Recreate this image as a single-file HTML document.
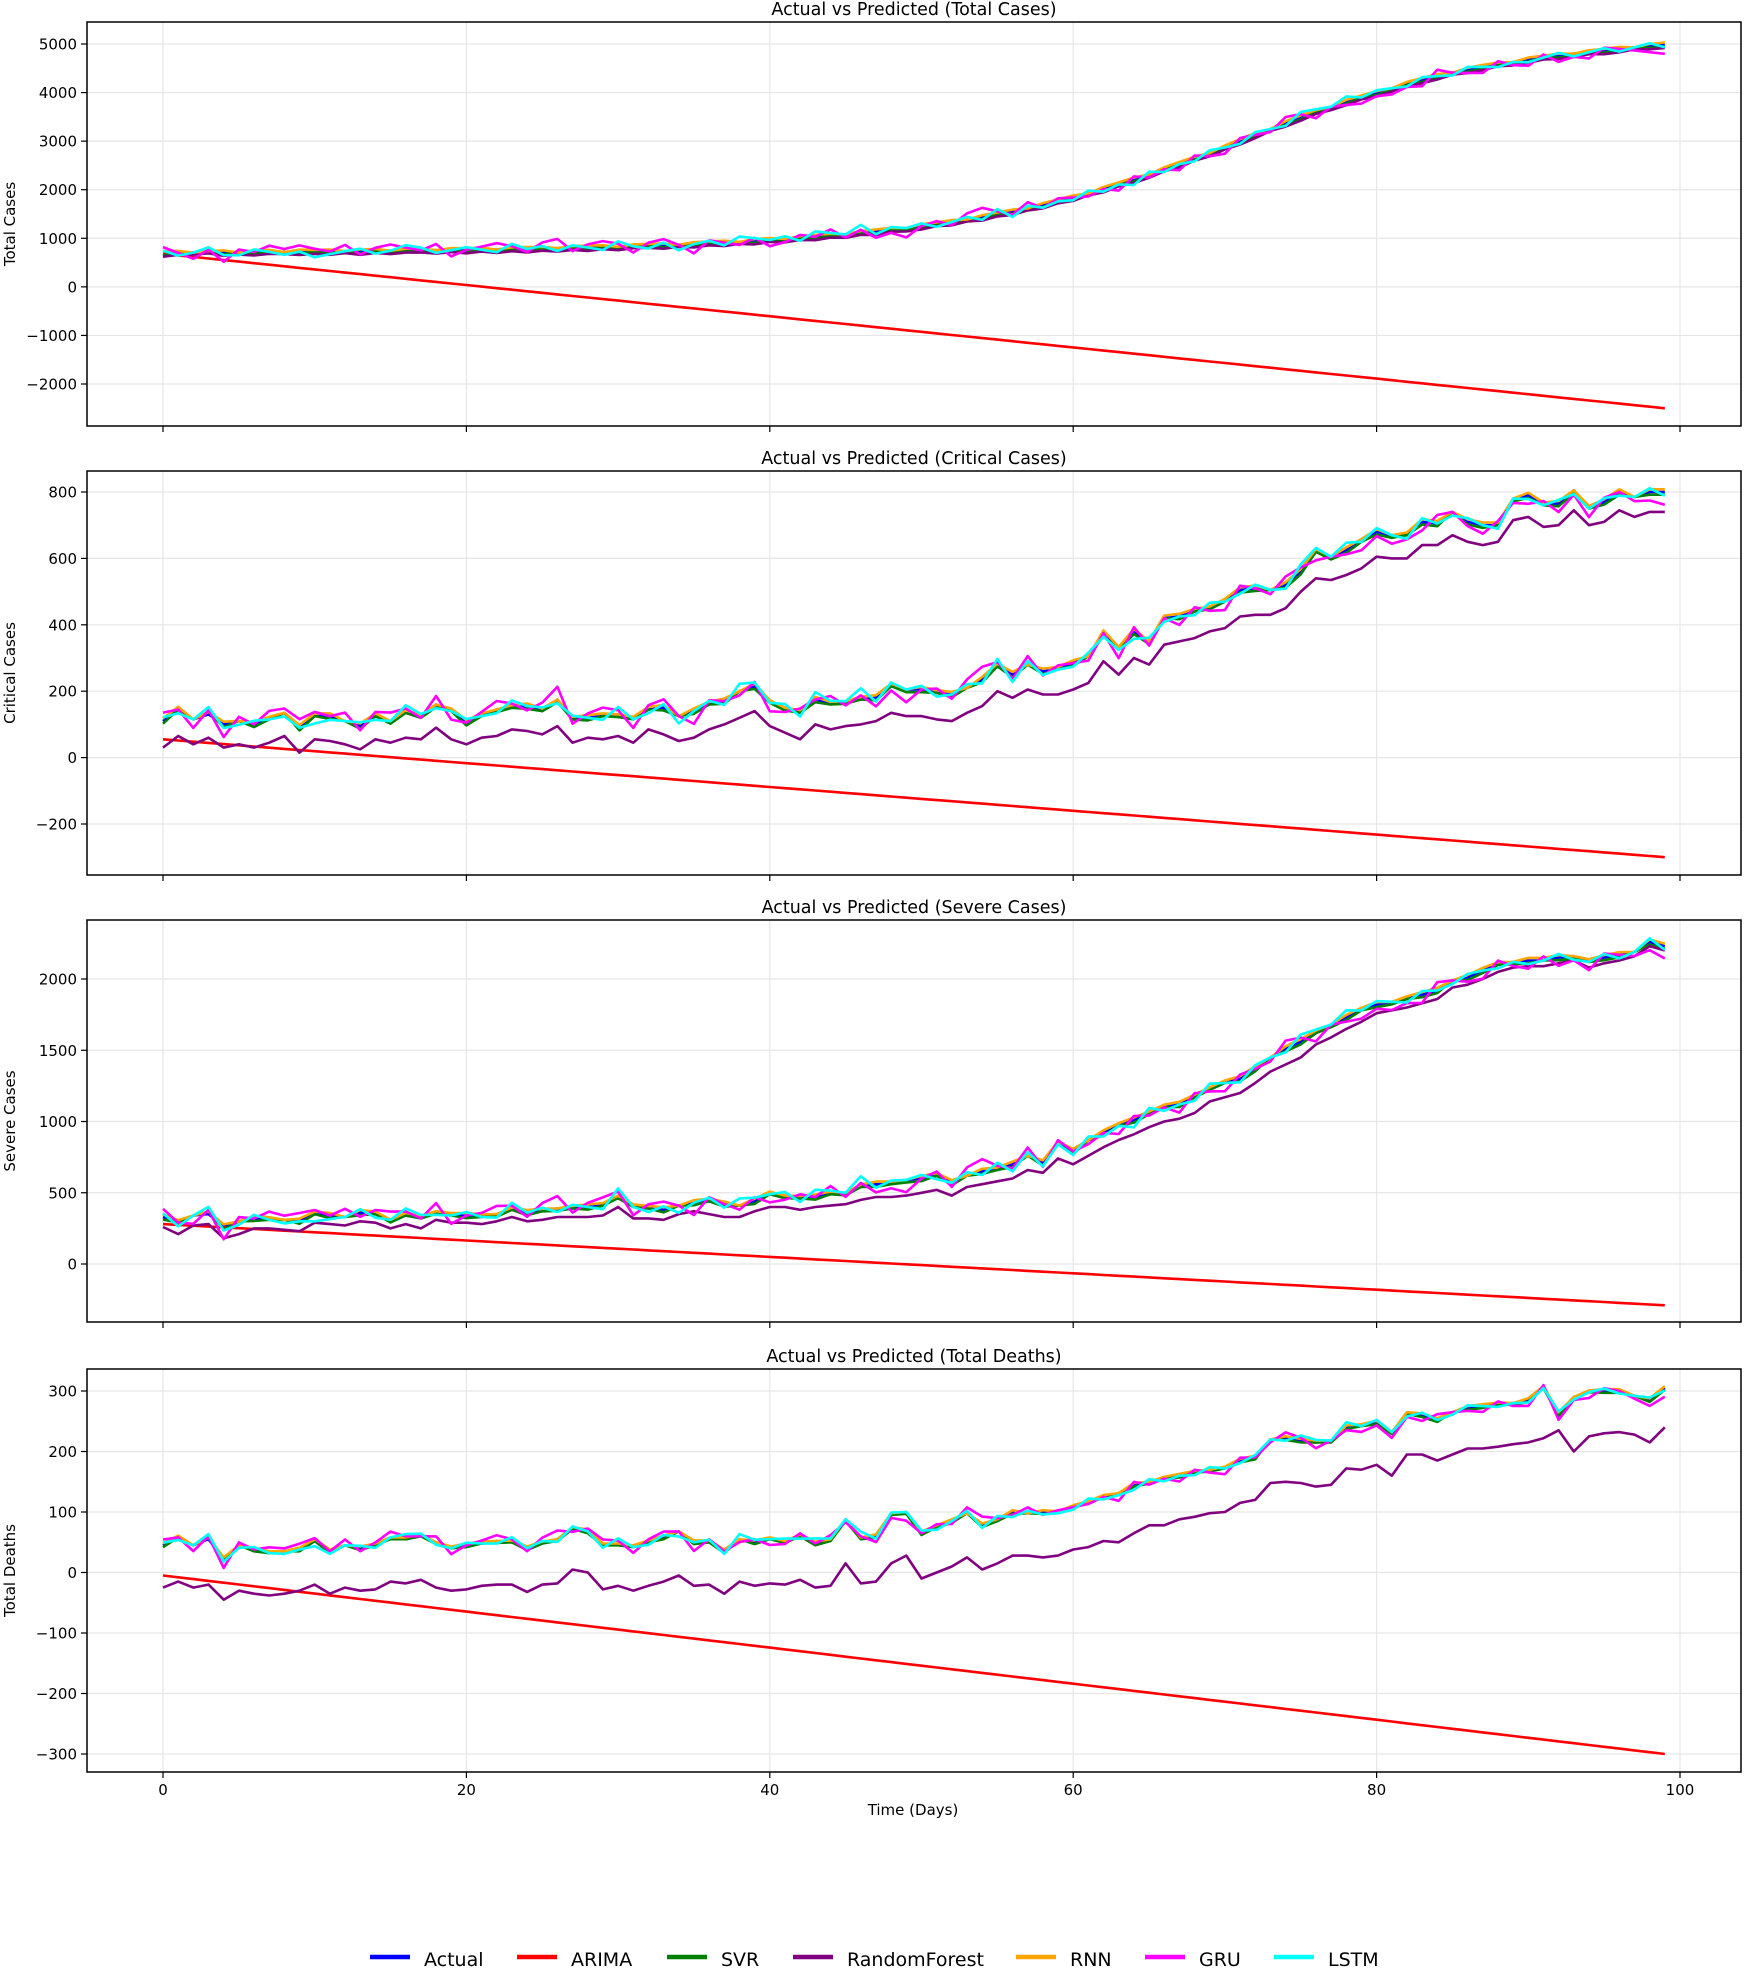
<!DOCTYPE html>
<html><head><meta charset="utf-8"><style>
body{margin:0;background:#fff;}
svg text{font-family:"DejaVu Sans","Liberation Sans",sans-serif;fill:#000;}
</style></head><body>
<svg id="chart" width="1750" height="1967" xmlns="http://www.w3.org/2000/svg"></svg>
<script>
const days = Array.from({length:100},(_,i)=>i);
const totalActual=[690,700,705,700,710,705,715,720,715,725,720,730,735,730,740,745,745,750,755,755,760,765,770,775,780,785,795,800,810,815,825,835,845,855,865,880,895,910,925,945,965,985,1005,1030,1055,1080,1110,1140,1175,1210,1250,1290,1335,1385,1435,1490,1550,1615,1685,1760,1840,1925,2015,2110,2210,2315,2420,2530,2640,2755,2870,3000,3130,3250,3370,3490,3600,3710,3810,3900,3990,4090,4180,4260,4340,4410,4470,4530,4580,4630,4680,4720,4760,4800,4830,4860,4900,4930,4960,4990];
const criticalActual=[110,145,115,130,100,110,100,115,135,90,125,125,110,95,125,110,135,120,160,140,105,125,145,150,155,140,175,115,120,125,130,115,145,150,125,140,160,170,200,215,165,150,135,175,160,170,175,180,215,205,205,195,190,210,235,275,250,280,260,265,285,305,375,325,380,350,420,425,440,455,470,505,510,505,520,560,620,605,625,650,680,670,670,710,705,740,710,700,700,780,790,760,765,805,750,770,800,785,800,800];
const criticalRF=[30,65,40,60,30,40,30,45,65,15,55,50,40,25,55,45,60,55,90,55,40,60,65,85,80,70,95,45,60,55,65,45,85,70,50,60,85,100,120,140,95,75,55,100,85,95,100,110,135,125,125,115,110,135,155,200,180,205,190,190,205,225,290,250,300,280,340,350,360,380,390,425,430,430,450,500,540,535,550,570,605,600,600,640,640,670,650,640,650,715,725,695,700,745,700,710,745,725,740,740];
const severeActual=[330,290,340,350,260,300,320,310,310,300,350,340,330,360,350,310,340,320,370,340,340,330,350,380,360,370,390,390,400,410,480,400,390,380,410,430,440,420,410,440,490,480,460,470,490,500,540,560,560,590,600,620,570,620,650,660,700,760,710,840,790,870,920,970,1010,1070,1100,1120,1170,1240,1270,1300,1370,1450,1510,1560,1620,1680,1730,1780,1820,1840,1860,1890,1920,1990,2010,2060,2100,2120,2130,2130,2150,2160,2120,2150,2170,2190,2260,2230];
const severeRF=[260,210,270,280,180,210,250,250,240,230,290,280,270,300,290,250,280,250,310,290,290,280,300,330,300,310,330,330,330,340,400,320,320,310,350,370,350,330,330,370,400,400,380,400,410,420,450,470,470,480,500,520,480,540,560,580,600,660,640,740,700,760,820,870,910,960,1000,1020,1060,1140,1170,1200,1270,1350,1400,1450,1540,1590,1650,1700,1760,1780,1800,1830,1860,1940,1960,2000,2050,2080,2090,2090,2110,2130,2080,2110,2130,2160,2230,2200];
const deathsActual=[45,58,45,55,22,45,38,32,35,38,52,35,45,40,45,58,55,60,50,40,45,48,52,50,40,48,55,72,68,45,48,42,50,58,68,50,50,35,55,50,55,52,60,48,52,88,55,60,95,100,65,75,85,98,78,85,100,98,100,98,108,118,125,128,145,150,155,160,165,170,172,185,190,220,222,218,215,218,240,242,248,232,262,260,252,265,272,275,278,280,285,305,262,290,298,300,300,292,285,305];
const deathsRF=[-25,-15,-25,-20,-45,-30,-35,-38,-35,-30,-20,-35,-25,-30,-28,-15,-18,-12,-25,-30,-28,-22,-20,-20,-32,-20,-18,5,0,-28,-22,-30,-22,-15,-5,-22,-20,-35,-15,-22,-18,-20,-12,-25,-22,15,-18,-15,15,28,-10,0,10,25,5,15,28,28,25,28,38,42,52,50,65,78,78,88,92,98,100,115,120,148,150,148,142,145,172,170,178,160,195,195,185,195,205,205,208,212,215,222,235,200,225,230,232,228,215,240];
const arimaStart=[680,55,280,-5];
const arimaEnd=[-2500,-300,-290,-300];
const gruDev=[2,0,-2,1,-3,1,0,2,1,2,1,0,2,-1,1,2,1,0,2,-2,0,1,2,1,-1,2,3,-1,1,2,1,-2,1,2,0,-3,1,0,-1,1,-2,-1,1,0,2,-1,1,-2,-1,-3,0,1,-1,2,3,1,-1,2,-1,1,0,-1,0,-2,1,-1,0,-2,1,-1,-2,1,0,-1,2,1,-2,0,-1,-2,-1,-2,-1,-2,2,0,-1,-2,1,-1,-2,1,-2,-1,-2,1,0,-1,-2,-3];
const lstmDev=[1,-1,0,2,-1,-1,1,0,-1,0,-2,-1,0,1,-1,0,2,1,-1,0,1,0,-1,2,0,1,-1,1,0,-1,2,0,-1,1,-2,0,1,-1,2,1,0,1,-1,2,1,0,3,-1,1,0,1,-1,0,1,-1,2,-2,1,-1,0,-1,1,-1,0,-2,1,-1,0,-1,1,0,-1,1,0,-1,2,1,0,2,0,1,0,-1,1,0,-1,1,0,-1,0,-1,0,1,-1,0,1,-1,0,1,-1];
const svrDev=[-1,0,0,1,-1,0,-1,0,0,-1,0,-1,0,-1,0,-1,0,0,-1,0,-1,0,-1,0,-1,0,-1,0,-1,0,-1,0,0,-1,0,-1,0,-1,0,-1,0,-1,0,-1,0,-1,0,-1,0,-1,-1,0,-1,0,-1,0,-1,0,-1,0,-1,0,-1,0,-1,-1,0,-1,0,-1,0,-1,-1,0,-1,-1,0,-1,-1,0,-1,-1,0,-1,-1,0,-1,-1,0,-1,-1,0,-1,-1,0,-1,-1,0,-1,-1];
const rnnDev=[1,1,0,1,1,0,1,1,0,1,1,1,0,1,1,0,1,1,0,1,1,1,0,1,1,1,0,1,1,1,0,1,1,1,0,1,1,1,0,1,1,0,1,1,1,0,1,1,1,0,1,1,1,0,1,1,1,0,1,1,1,0,1,1,1,0,1,1,1,0,1,1,1,0,1,1,1,0,1,1,1,0,1,1,1,0,1,1,1,0,1,1,1,0,1,1,1,0,1,1];
const xTicks=[0,20,40,60,80,100];
const panelTitles=["Actual vs Predicted (Total Cases)","Actual vs Predicted (Critical Cases)","Actual vs Predicted (Severe Cases)","Actual vs Predicted (Total Deaths)"];
const yLabels=["Total Cases","Critical Cases","Severe Cases","Total Deaths"];
const yTicks=[[-2000,-1000,0,1000,2000,3000,4000,5000],[-200,0,200,400,600,800],[0,500,1000,1500,2000],[-300,-200,-100,0,100,200,300]];
const yTickLabels=[["\u22122000","\u22121000","0","1000","2000","3000","4000","5000"],["\u2212200","0","200","400","600","800"],["0","500","1000","1500","2000"],["\u2212300","\u2212200","\u2212100","0","100","200","300"]];
const legendNames=["Actual","ARIMA","SVR","RandomForest","RNN","GRU","LSTM"];
const legendColors=["#0000ff","#ff0000","#008000","#800080","#ffa500","#ff00ff","#00ffff"];

const NS="http://www.w3.org/2000/svg";
const svg=document.getElementById('chart');
function mk(tag,attrs,parent){const e=document.createElementNS(NS,tag);for(const k in attrs)e.setAttribute(k,attrs[k]);(parent||svg).appendChild(e);return e;}
const L=87,R=1741;
const boxes=[[22,426],[471,875],[920,1322],[1369,1772]];
const yDom=[[[5000,44],[-2000,384]],[[800,492],[-200,824]],[[2000,979],[0,1264]],[[300,1391],[-300,1754]]];
const scales=[40,8,18,3];
const keys=["total","critical","severe","deaths"];
function xs(d){return 163+(d/100)*(1680-163);}
function yScale(p){const [[v1,p1],[v2,p2]]=yDom[p];return v=>p1+(v-v1)*(p2-p1)/(v2-v1);}
const actuals=[totalActual,criticalActual,severeActual,deathsActual];
for(let p=0;p<4;p++){
  const [top,bot]=boxes[p];const ys=yScale(p);
  const g=mk('g',{});
  
  
  xTicks.forEach(t=>{const l=mk('line',{x1:xs(t),x2:xs(t),y1:top,y2:bot,stroke:'#e6e6e6','stroke-width':1.2},g);
    
    mk('line',{x1:xs(t),x2:xs(t),y1:bot,y2:bot+6,stroke:'#000','stroke-width':1.2},g);
    if(p===3){const tx=mk('text',{x:xs(t),y:bot+23,'text-anchor':'middle','font-size':15},g);tx.textContent=t;
      }
  });
  yTicks[p].forEach((t,i)=>{const y=ys(t);
    const l=mk('line',{x1:L,x2:R,y1:y,y2:y,stroke:'#e6e6e6','stroke-width':1.2},g);
    
    mk('line',{x1:L-6,x2:L,y1:y,y2:y,stroke:'#000','stroke-width':1.2},g);
    const tx=mk('text',{x:L-10,y:y+5.5,'text-anchor':'end','font-size':15},g);tx.textContent=yTickLabels[p][i];
    
  });
  const act=actuals[p],sc=scales[p];
  let rf;
  if(p===0) rf=act.map((v,i)=>v-40+svrDev[i]*30);
  else rf=[null,criticalRF,severeRF,deathsRF][p];
  const series=[
    ['actual',act,'#0000ff'],
    ['arima',days.map(d=>arimaStart[p]+(arimaEnd[p]-arimaStart[p])*d/99),'#ff0000'],
    ['svr',act.map((v,i)=>v+svrDev[i]*sc),'#008000'],
    ['randomforest',rf,'#800080'],
    ['rnn',act.map((v,i)=>v+rnnDev[i]*sc),'#ffa500'],
    ['gru',act.map((v,i)=>v+gruDev[i]*sc*1.6),'#ff00ff'],
    ['lstm',act.map((v,i)=>v+lstmDev[i]*sc*1.4),'#00ffff']
  ];
  series.forEach(([nm,vals,col])=>{
    const pts=vals.map((v,i)=>xs(days[i]).toFixed(1)+','+ys(v).toFixed(1)).join(' ');
    const pl=mk('polyline',{points:pts,fill:'none',stroke:col,'stroke-width':2.6,'stroke-linejoin':'round'},g);
    
    
  });
  const fr=mk('rect',{x:L,y:top,width:R-L,height:bot-top,fill:'none',stroke:'#000','stroke-width':1.5},g);
  
  const tt=mk('text',{x:(L+R)/2,y:top-7,'text-anchor':'middle','font-size':17.5},g);tt.textContent=panelTitles[p];
  
  const yl=mk('text',{x:0,y:0,'text-anchor':'middle','font-size':15,transform:`translate(15,${(top+bot)/2}) rotate(-90)`},g);yl.textContent=yLabels[p];
  
}
const xl=mk('text',{x:913,y:1815,'text-anchor':'middle','font-size':15});xl.textContent="Time (Days)";

const legendX=[370,517,667,793,1016,1145,1274];
const lg=mk('g',{});

legendNames.forEach((n,i)=>{
  const e=mk('g',{},lg);
  
  
  mk('line',{x1:legendX[i],x2:legendX[i]+40,y1:1957,y2:1957,stroke:legendColors[i],'stroke-width':4.5},e);
  const t=mk('text',{x:legendX[i]+54,y:1966,'font-size':19},e);t.textContent=n;
});
</script>
</body></html>
